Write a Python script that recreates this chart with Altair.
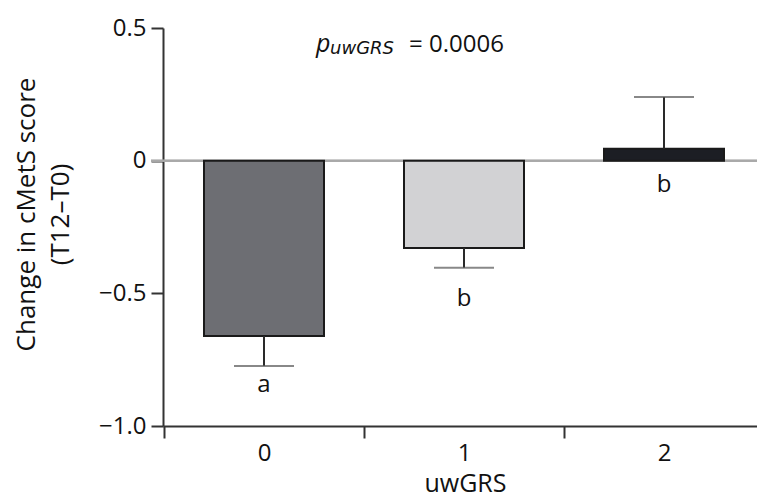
import altair as alt
import pandas as pd

# ---- data ----
groups = [0, 1, 2]
means = [-0.661, -0.329, 0.045]
err_ends = [-0.774, -0.404, 0.240]
letters = ["a", "b", "b"]
bar_colors = ["#6d6e73", "#d2d2d4", "#1c1e24"]
y_ticks = [-1.0, -0.5, 0.0, 0.5]
x_ticks = [-0.5, 0, 0.5, 1, 1.5, 2]
p_label = ["p", "uwGRS", "= 0.0006"]
y_title = ["Change in cMetS score", "(T12\u2013T0)"]
x_title = "uwGRS"

FONT = "Open Sans"
W, H = 594, 398

df = pd.DataFrame({"g": groups, "mean": means, "err": err_ends,
                   "letter": letters, "gs": [str(g) for g in groups]})
df["anchor"] = [e if m < 0 else 0.0 for m, e in zip(means, err_ends)]

xscale = alt.Scale(domain=[-0.505, 2.465], nice=False, zero=False, padding=0)
yscale = alt.Scale(domain=[-1.0, 0.5], nice=False, zero=False, padding=0)

xaxis = alt.Axis(
    values=x_ticks, title=x_title, grid=False,
    labelExpr="datum.value % 1 === 0 ? format(datum.value, 'd') : ''",
    tickOpacity={"condition": {"test": "datum.value % 1 !== 0", "value": 1}, "value": 0},
    tickSize=12, labelPadding=3, titlePadding=6, titleFontSize=25, titleX=302,
)
yaxis = alt.Axis(
    values=y_ticks, title=y_title, grid=False,
    labelExpr="datum.value === 0 ? '0' : format(datum.value, '.1f')",
    tickSize=12, labelPadding=5,
    titleAngle=270, titleX=-137, titleY=186, titleAlign="center",
    titleBaseline="middle", titleLineHeight=34,
)

base = alt.Chart(df)

zero = base.mark_rule(color="#a9a9a9", strokeWidth=2).encode(
    y=alt.datum(0, scale=yscale), x=alt.value(-12), x2=alt.value(W)
)

bars = base.mark_bar(size=120, stroke="#1a1a1a", strokeWidth=2).encode(
    x=alt.X("g:Q", scale=xscale, axis=xaxis),
    y=alt.Y("mean:Q", scale=yscale, axis=yaxis),
    y2=alt.datum(0),
    color=alt.Color("gs:N", scale=alt.Scale(domain=[str(g) for g in groups], range=bar_colors), legend=None),
)

stem = base.mark_rule(color="#2a2a2a", strokeWidth=2).encode(
    x=alt.X("g:Q", scale=xscale), y=alt.Y("mean:Q", scale=yscale), y2="err:Q"
)
cap = base.mark_tick(color="#555555", orient="horizontal", size=60, thickness=2).encode(
    x=alt.X("g:Q", scale=xscale), y=alt.Y("err:Q", scale=yscale)
)

letter_dy = [26, 38, 31]
letter_layers = []
for i, g in enumerate(groups):
    letter_layers.append(
        base.transform_filter(alt.datum.g == g).mark_text(
            font=FONT, fontSize=24, color="#111111", baseline="alphabetic", dy=letter_dy[i]
        ).encode(x=alt.X("g:Q", scale=xscale), y=alt.Y("anchor:Q", scale=yscale), text="letter:N")
    )

ann_df = pd.DataFrame({"p": [p_label[0]], "s": [p_label[1]], "v": [p_label[2]]})
ann = alt.Chart(ann_df)
ann_p = ann.mark_text(font=FONT, fontSize=25, fontStyle="italic", align="left", baseline="alphabetic",
                      color="#111111").encode(text="p:N", x=alt.value(153), y=alt.value(24))
ann_s = ann.mark_text(font="DejaVu Sans", fontSize=18, fontStyle="italic", align="left", baseline="alphabetic",
                      color="#111111").encode(text="s:N", x=alt.value(167), y=alt.value(26))
ann_v = ann.mark_text(font=FONT, fontSize=24, align="left", baseline="alphabetic",
                      color="#111111").encode(text="v:N", x=alt.value(246), y=alt.value(24))

chart = alt.layer(zero, bars, stem, cap, *letter_layers, ann_p, ann_s, ann_v).properties(
    width=W, height=H,
    background="white",
    autosize=alt.AutoSizeParams(type="none"),
    padding={"left": 163, "top": 28, "right": 0, "bottom": 78},
).configure_view(stroke=None).configure_axis(
    domainColor="#333333", domainWidth=2, tickColor="#333333", tickWidth=2,
    labelFont=FONT, labelFontSize=24, labelColor="#111111",
    titleFont=FONT, titleFontSize=26, titleColor="#111111", titleFontWeight="normal",
)

chart.save("out.html", embed_options={"renderer": "svg", "actions": False})
